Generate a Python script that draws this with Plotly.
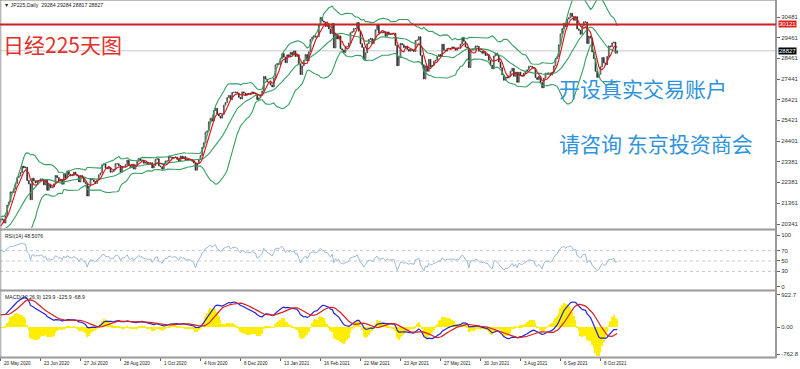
import numpy as np
import pandas as pd
import plotly.graph_objects as go

# ---------------- data ----------------
# warm-up closes before the first visible bar (needed so the indicators exist at bar 0)
warmup_close = [16887, 18092, 19546, 18665, 19389,
                19084, 18917, 18065, 17819, 17820,
                18576, 18950, 19353, 19345, 19498,
                19043, 19638, 19550, 19290, 19897,
                19669, 19280, 19137, 19429, 19262,
                19783, 19771, 19900, 20193, 19619,
                19500, 19650, 19700, 19674, 20179,
                20390, 20366, 20267, 19914, 20037,
                20133, 20433]

# visible daily closes, 20 May 2020 .. 22 Oct 2021
close = [
    20595, 20552, 20388,
    20741, 21271, 21419, 21916, 21877,
    22062, 22325, 22613, 22695, 22863,
    23178, 23091, 23124, 22472, 22305,
    21530, 22582, 22455, 22355, 22478,
    22437, 22549, 22534, 22259, 22512,
    21995, 22288, 22121, 22145, 22306,
    22714, 22614, 22438, 22529, 22291,
    22784, 22587, 22945, 22770, 22696,
    22717, 22884, 22751, 22700, 22400,
    22715, 22657, 22397, 22339, 21710,
    22195, 22573, 22514, 22418, 22329,
    22500, 22750, 22843, 23249, 23289,
    23097, 23051, 23110, 22880, 22920,
    22985, 23296, 23290, 23208, 22882,
    23139, 23138, 23247, 23465, 23205,
    23089, 23274, 23032, 23235, 23406,
    23559, 23454, 23475, 23319, 23360,
    23300, 23250, 23346, 23087, 23204,
    23511, 23539, 23185, 23150, 23029,
    23312, 23433, 23422, 23647, 23619,
    23558, 23601, 23626, 23507, 23410,
    23671, 23567, 23640, 23474, 23516,
    23494, 23485, 23418, 23331, 22977,
    23295, 23500, 23695, 24105, 24325,
    24839, 24905, 25349, 25520, 25385,
    25906, 26014, 25728, 25634, 25527,
    25700, 26165, 26296, 26537, 26644,
    26433, 26787, 26800, 26809, 26751,
    26547, 26467, 26817, 26756, 26652,
    26732, 26687, 26757, 26806, 26763,
    26714, 26436, 26524, 26668,
    26854, 27568, 27444, 27300,
    27258, 27158, 27055, 27490, 28139,
    28200, 28164, 28456, 28698, 28519,
    28242, 28633, 28523, 28756, 28631,
    28822, 28546, 28635, 28197, 27663,
    28091, 28362, 28646, 28341, 28779,
    29388, 29505, 29562, 29500, 29520,
    30084, 30467, 30292, 30236, 30017,
    30156, 29900, 29671, 30168, 28966,
    29663, 29408, 29559, 28930, 28864,
    28743, 29028, 29036, 29211, 29717,
    29766, 29921, 29914, 30216, 29792,
    29174, 28996, 28405, 28729, 29176,
    29384, 29432, 29178, 29388, 29854,
    30089, 29696, 29730, 29708, 29768,
    29538, 29751, 29620, 29642, 29683,
    29685, 29100, 28100, 28508, 29188,
    29126, 28991, 29053, 28900, 28812,
    28900, 28850, 28800, 29331, 29357,
    29518, 28608, 28147, 27448, 28084,
    27824, 28406, 28044, 28098, 28317,
    28364, 28553, 28642, 28549, 29149,
    28860, 28814, 28946, 28946, 28942,
    29019, 28963, 28860, 28958, 28948,
    29161, 29441, 29291, 29018, 28964,
    28010, 28884, 28874, 28875, 29066,
    29048, 28812, 28791, 28707, 28783,
    28598, 28643, 28366, 28118, 27940,
    28569, 28718, 28608, 28279, 28003,
    27652, 27388, 27548, 27500, 27600,
    27833, 27970, 27581, 27782, 27283,
    27781, 27641, 27584, 27728, 27820,
    27900, 28070, 28070, 28015, 27977,
    27523, 27424, 27585, 27281, 27013,
    27494, 27732, 27724, 27742, 27641,
    27789, 28089, 28451, 28543, 29128,
    29659, 29916, 30181, 30008, 30381,
    30447, 30670, 30511, 30323, 30500,
    29900, 29839, 29639, 30050, 30248,
    30240, 29184, 29544, 29452, 28771,
    28444, 27822, 27528, 27678, 28048,
    28498, 28230, 28140, 28551, 29068,
    29025, 29215, 29255, 28708, 28827,
]

date_tick_labels = ["20 May 2020", "23 Jun 2020", "27 Jul 2020", "28 Aug 2020",
                    "1 Oct 2020", "4 Nov 2020", "8 Dec 2020", "13 Jan 2021",
                    "16 Feb 2021", "22 Mar 2021", "23 Apr 2021", "27 May 2021",
                    "30 Jun 2021", "3 Aug 2021", "6 Sep 2021", "8 Oct 2021"]

price_ticks = [30481, 29461, 28461, 27441, 26421, 25421, 24401, 23381, 22381, 21361, 20341]
rsi_ticks = [100, 70, 50, 30, 0]
rsi_levels = [70, 50, 30]
macd_ticks = [922.7, 0.0, -762.8]
macd_tick_text = ["922.7", "0.00", "-762.8"]
level_price = 30121
last_price = 28827
header_text = "\u25bc JP225,Daily  29284 29284 28817 28827"
rsi_label = "RSI(14) 48.5076"
macd_label = "MACD(12,26,9) 129.9 -125.9 -68.9"

# ---------------- calendar / indicators ----------------
dates = pd.bdate_range("2020-05-20", "2021-10-22")
dates = dates[~dates.isin(pd.to_datetime(["2020-12-25", "2021-01-01"]))]
n = len(close)
x = np.arange(n)
date_index = {d: i for i, d in enumerate(dates[:n])}
tick_pos, tick_txt = [], []
for lab in date_tick_labels:
    d = pd.to_datetime(lab, format="%d %b %Y")
    if d in date_index:
        tick_pos.append(date_index[d])
        tick_txt.append(lab)

full = pd.Series(warmup_close + close, dtype=float)
nw = len(warmup_close)
opn = full.shift(1).bfill()
ma_red = full.rolling(5).mean()
bb_mid = full.rolling(20).mean()
bb_sd = full.rolling(20).std(ddof=0)
bb_up = bb_mid + 2 * bb_sd
bb_lo = bb_mid - 2 * bb_sd
delta = full.diff()
gain = delta.clip(lower=0).ewm(alpha=1 / 14, adjust=False).mean()
loss = (-delta.clip(upper=0)).ewm(alpha=1 / 14, adjust=False).mean()
rsi = 100 - 100 / (1 + gain / loss)
macd = full.ewm(span=12, adjust=False).mean() - full.ewm(span=26, adjust=False).mean()
signal = macd.rolling(9).mean()
hist = 2 * (macd - signal)

def vis(s):
    return s.iloc[nw:].to_numpy()

o = vis(opn)
c = np.array(close, dtype=float)
h = np.maximum(o, c)
l = np.minimum(o, c)

# ---------------- figure ----------------
W, H = 800, 369
xr = 776 / W
def py(pix):
    return 1 - pix / H

fig = go.Figure()
fig.add_trace(go.Candlestick(
    x=x, open=o, high=h, low=l, close=c, xaxis="x", yaxis="y",
    increasing=dict(line=dict(color="#262626", width=0.7), fillcolor="#ffffff"),
    decreasing=dict(line=dict(color="#262626", width=0.7), fillcolor="#262626"),
    whiskerwidth=0, hoverinfo="skip", showlegend=False))
green = "#35a060"
for s in (bb_up, bb_mid, bb_lo):
    fig.add_trace(go.Scatter(x=x, y=vis(s), mode="lines", xaxis="x", yaxis="y",
                             line=dict(color=green, width=1.1), hoverinfo="skip", showlegend=False))
fig.add_trace(go.Scatter(x=x, y=vis(ma_red), mode="lines", xaxis="x", yaxis="y",
                         line=dict(color="#e01010", width=1.1), hoverinfo="skip", showlegend=False))

fig.add_trace(go.Scatter(x=x, y=vis(rsi), mode="lines", xaxis="x2", yaxis="y2",
                         line=dict(color="#9db8da", width=1), hoverinfo="skip", showlegend=False))

fig.add_trace(go.Bar(x=x, y=vis(hist), xaxis="x3", yaxis="y3", width=1.0,
                     marker=dict(color="#ffee00", line=dict(width=0)), hoverinfo="skip", showlegend=False))
fig.add_trace(go.Scatter(x=x, y=vis(macd), mode="lines", xaxis="x3", yaxis="y3",
                         line=dict(color="#2424d8", width=1.2), hoverinfo="skip", showlegend=False))
fig.add_trace(go.Scatter(x=x, y=vis(signal), mode="lines", xaxis="x3", yaxis="y3",
                         line=dict(color="#d82020", width=1.2), hoverinfo="skip", showlegend=False))

xrange = [-0.3, 465.3]
SF = "Liberation Sans"
tickfont = dict(family=SF, size=6, color="#333333")
common_x = dict(range=xrange, domain=[0, xr], showgrid=False, zeroline=False,
                showticklabels=False, fixedrange=True, automargin=False)
common_y = dict(side="right", showgrid=False, zeroline=False, tickmode="array",
                ticks="outside", ticklen=3, tickcolor="#666666", tickfont=tickfont,
                fixedrange=True, automargin=False)
fig.update_layout(
    width=W, height=H, margin=dict(l=0, r=0, t=0, b=0, autoexpand=False),
    paper_bgcolor="white", plot_bgcolor="white", bargap=0,
    xaxis=dict(**common_x, anchor="y", rangeslider=dict(visible=False)),
    xaxis2=dict(**common_x, anchor="y2", matches="x"),
    xaxis3=dict(range=xrange, domain=[0, xr], showgrid=False, zeroline=False, anchor="y3",
                matches="x", tickmode="array", tickvals=tick_pos, showticklabels=False,
                ticks="outside", ticklen=3, tickcolor="#666666", fixedrange=True, automargin=False),
    yaxis=dict(**common_y, domain=[py(228), 1], range=[20145, 31318], anchor="x",
               tickvals=price_ticks, ticktext=[str(v) for v in price_ticks]),
    yaxis2=dict(**common_y, domain=[py(290), py(231)], range=[-5.8, 107.7], anchor="x2",
                tickvals=rsi_ticks, ticktext=[str(v) for v in rsi_ticks]),
    yaxis3=dict(**common_y, domain=[py(357), py(292)], range=[-848.5, 1008], anchor="x3",
                tickvals=macd_ticks, ticktext=macd_tick_text),
)

shapes = []
# panel borders
for yp in (229.5, 290.5, 357.5):
    shapes.append(dict(type="line", xref="paper", yref="paper", x0=0, x1=xr, y0=py(yp), y1=py(yp),
                       line=dict(color="#9a9a9a", width=2)))
shapes.append(dict(type="line", xref="paper", yref="paper", x0=xr, x1=xr, y0=py(358), y1=1,
                   line=dict(color="#9a9a9a", width=2)))
shapes.append(dict(type="line", xref="paper", yref="paper", x0=0.001, x1=0.001, y0=py(358), y1=1,
                   line=dict(color="#9a9a9a", width=1)))
shapes.append(dict(type="line", xref="paper", yref="paper", x0=0, x1=xr, y0=0.9995, y1=0.9995,
                   line=dict(color="#9a9a9a", width=1)))
# price lines
shapes.append(dict(type="line", xref="paper", yref="y", x0=0, x1=xr, y0=last_price, y1=last_price,
                   line=dict(color="#c8c8c8", width=1), layer="below"))
shapes.append(dict(type="line", xref="paper", yref="y", x0=0, x1=xr, y0=level_price, y1=level_price,
                   line=dict(color="#cc1f1f", width=2)))
for lv in rsi_levels:
    shapes.append(dict(type="line", xref="paper", yref="y2", x0=0, x1=xr, y0=lv, y1=lv,
                       line=dict(color="#c8c8c8", width=1, dash="dot"), layer="below"))
fig.update_layout(shapes=shapes)

small = dict(family=SF, size=5.2, color="#222222")
datefont = dict(family=SF, size=4.6, color="#222222")
cjk = "Noto Sans CJK SC"
ann = [
    dict(text=header_text, xref="paper", yref="paper", x=2 / W, y=py(5), xanchor="left",
         yanchor="middle", showarrow=False, font=small),
    dict(text=rsi_label, xref="paper", yref="paper", x=3 / W, y=py(236), xanchor="left",
         yanchor="middle", showarrow=False, font=small),
    dict(text=macd_label, xref="paper", yref="paper", x=3 / W, y=py(297), xanchor="left",
         yanchor="middle", showarrow=False, font=small),
    dict(text="日经225天图", xref="paper", yref="paper", x=1 / W, y=py(44), xanchor="left",
         yanchor="middle", showarrow=False, font=dict(family=cjk, size=21, color="#e2302a")),
    dict(text="开设真实交易账户", xref="paper", yref="paper", x=557 / W, y=py(88), xanchor="left",
         yanchor="middle", showarrow=False, font=dict(family=cjk, size=21, color="#2f93dc")),
    dict(text="请咨询 东京投资商会", xref="paper", yref="paper", x=557 / W, y=py(143), xanchor="left",
         yanchor="middle", showarrow=False, font=dict(family=cjk, size=21, color="#2f93dc")),
    dict(text=str(level_price), xref="paper", yref="y", x=xr + 2 / W, y=level_price, xanchor="left",
         yanchor="middle", showarrow=False, bgcolor="#e02020", borderpad=0,
         font=dict(family=SF, size=6, color="white")),
    dict(text=str(last_price), xref="paper", yref="y", x=xr + 2 / W, y=last_price, xanchor="left",
         yanchor="middle", showarrow=False, bgcolor="#000000", borderpad=0,
         font=dict(family=SF, size=6, color="white")),
]
for pos, lab in zip(tick_pos, tick_txt):
    ann.append(dict(text=lab, xref="x3", yref="paper", x=pos, y=py(363), xanchor="left",
                    yanchor="middle", xshift=1, showarrow=False, font=datefont))
fig.update_layout(annotations=ann)

fig.write_html("out.html")
